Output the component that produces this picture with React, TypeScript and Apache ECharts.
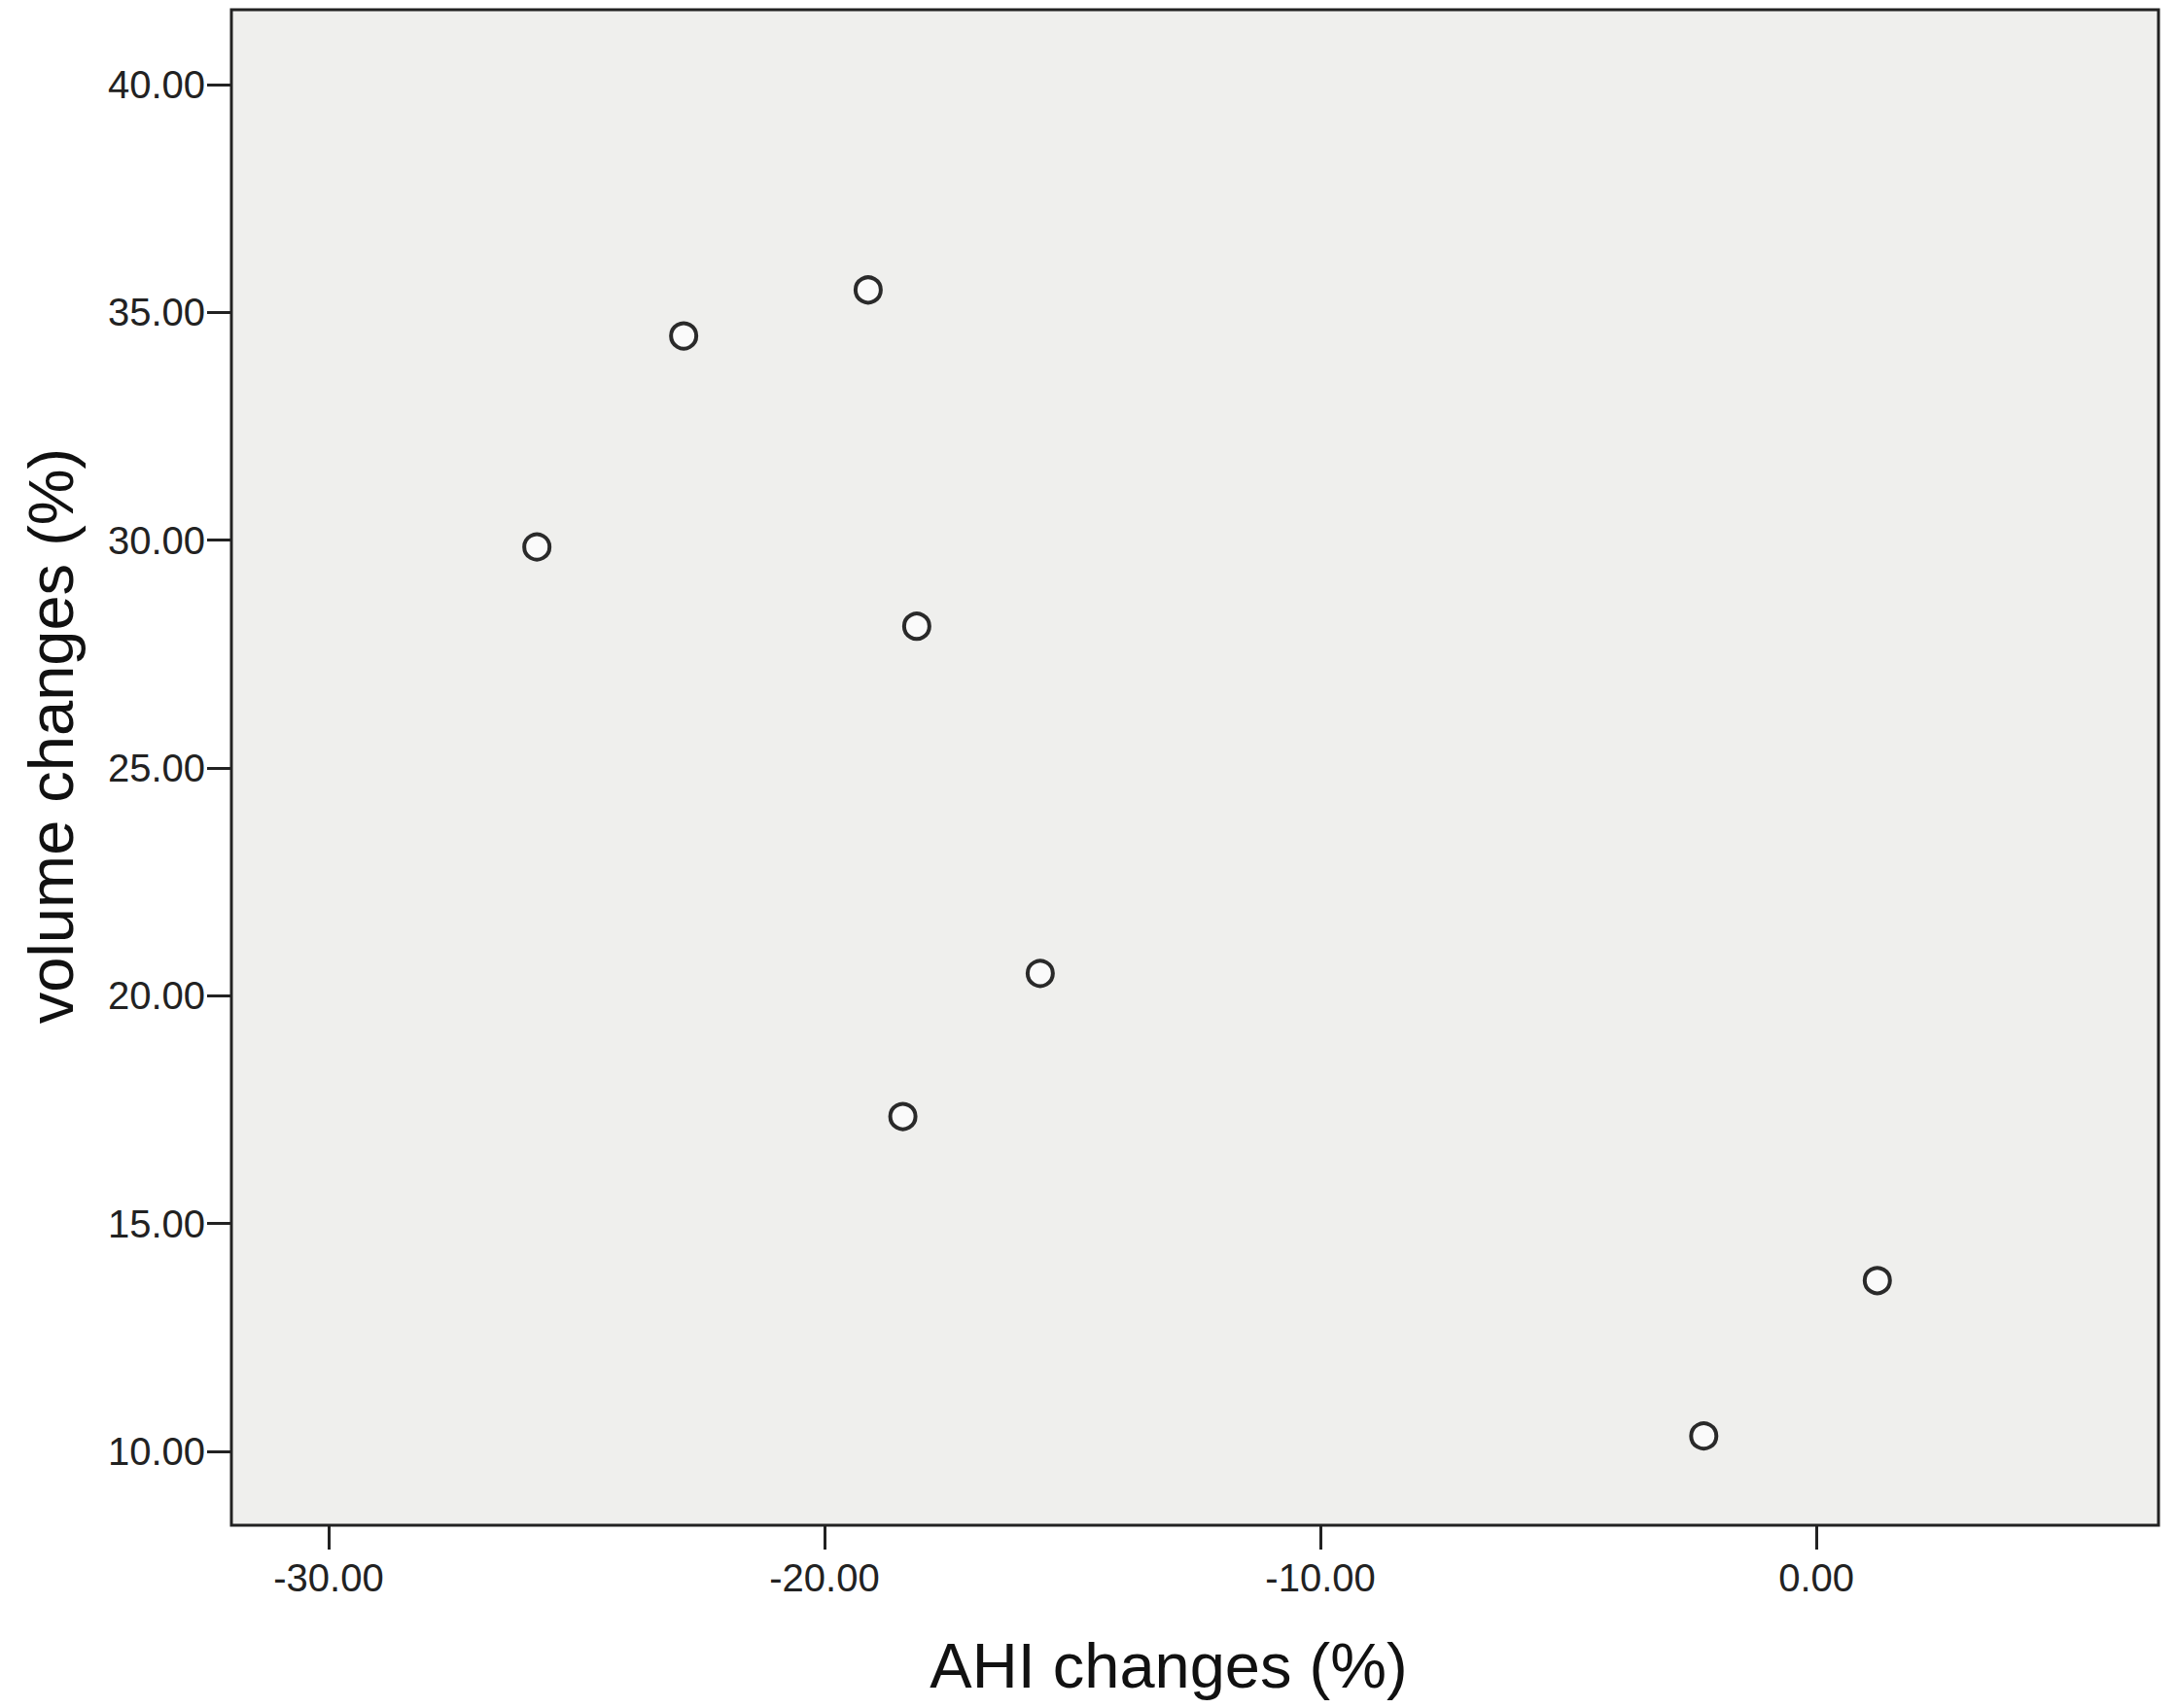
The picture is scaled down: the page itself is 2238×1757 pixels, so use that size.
import React, { useEffect, useRef } from "react";
import * as echarts from "echarts";

const ahiChanges = [-25.8, -22.84, -19.12, -18.14, -15.65, -18.42, -2.27, 1.23];
const volumeChanges = [29.85, 34.48, 35.49, 28.11, 20.49, 17.35, 10.34, 13.75];
const xTickValues = [-30, -20, -10, 0];
const yTickValues = [10, 15, 20, 25, 30, 35, 40];
const xTitle = "AHI changes (%)";
const yTitle = "volume changes (%)";

export default function App() {
  const ref = useRef<HTMLDivElement>(null);
  useEffect(() => {
    if (!ref.current) return;
    const chart = echarts.init(ref.current, null, { renderer: "svg" });
    const points = ahiChanges.map((x, i) => [x, volumeChanges[i]]);
    const font = "Liberation Sans";
    chart.setOption({
      animation: false,
      backgroundColor: "#ffffff",
      grid: {
        left: 238,
        right: 18,
        top: 10,
        bottom: 188,
        show: true,
        backgroundColor: "#efefed",
        borderColor: "#222222",
        borderWidth: 3,
      },
      xAxis: {
        type: "value",
        min: -31.96,
        max: 6.9,
        axisLine: { show: false, onZero: false },
        splitLine: { show: false },
        axisTick: {
          show: true,
          inside: false,
          length: 25,
          customValues: xTickValues,
          lineStyle: { color: "#222222", width: 3 },
        },
        axisLabel: {
          customValues: xTickValues,
          formatter: (v: number) => v.toFixed(2),
          margin: 34,
          fontFamily: font,
          fontSize: 40,
          color: "#222222",
        },
      },
      yAxis: {
        type: "value",
        min: 8.38,
        max: 41.64,
        axisLine: { show: false, onZero: false },
        splitLine: { show: false },
        axisTick: {
          show: true,
          inside: false,
          length: 25,
          customValues: yTickValues,
          lineStyle: { color: "#222222", width: 3 },
        },
        axisLabel: {
          customValues: yTickValues,
          formatter: (v: number) => v.toFixed(2),
          margin: 27,
          fontFamily: font,
          fontSize: 40,
          color: "#222222",
        },
      },
      graphic: [
        {
          type: "text",
          x: 1202,
          y: 1713,
          style: {
            text: xTitle,
            fontFamily: font,
            fontSize: 65,
            fill: "#111111",
            textAlign: "center",
            textVerticalAlign: "middle",
          },
        },
        {
          type: "text",
          x: 52,
          y: 757,
          rotation: Math.PI / 2,
          style: {
            text: yTitle,
            fontFamily: font,
            fontSize: 65,
            fill: "#111111",
            textAlign: "center",
            textVerticalAlign: "middle",
          },
        },
      ],
      series: [
        {
          type: "scatter",
          data: points,
          symbol: "circle",
          symbolSize: 26,
          itemStyle: {
            color: "#fafafa",
            borderColor: "#2a2a2a",
            borderWidth: 4,
            opacity: 1,
          },
        },
      ],
    });
    return () => chart.dispose();
  }, []);
  return (
    <div
      ref={ref}
      style={{ position: "fixed", left: 0, top: 0, width: 2238, height: 1757 }}
    />
  );
}
